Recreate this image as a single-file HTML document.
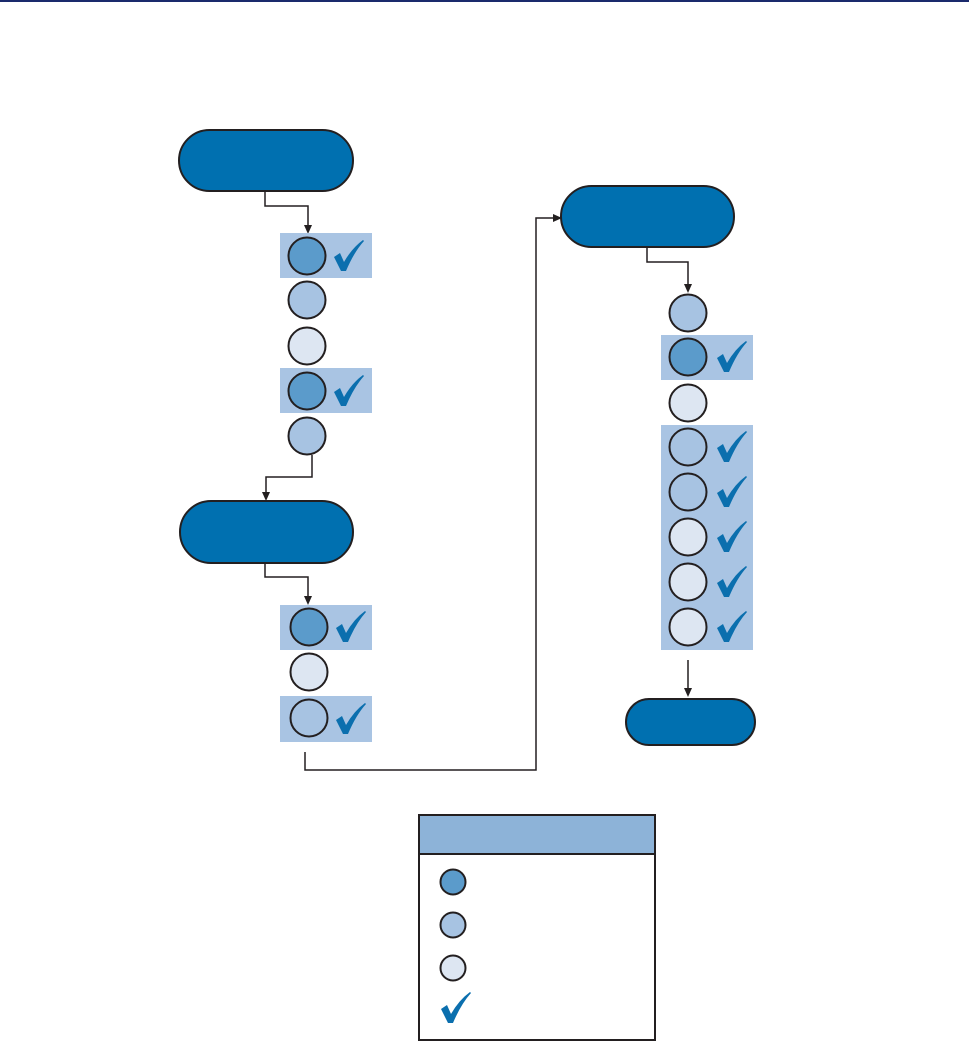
<!DOCTYPE html>
<html><head><meta charset="utf-8"><style>html,body{margin:0;padding:0;background:#fff}svg{display:block}</style></head>
<body>
<svg width="969" height="1044" viewBox="0 0 969 1044" xmlns="http://www.w3.org/2000/svg">
<defs>
<path id="ck" d="M0,17 L6,13 L10,22 Q18,8 29,0 L30,1 Q20,12 12,31 L7,31 Z" fill="#0b6fae"/>
<marker id="ar" markerWidth="8" markerHeight="10" refX="4" refY="9" orient="auto" markerUnits="userSpaceOnUse"><path d="M0,0 L8,0 L4,10 Z" fill="#231f20" transform="rotate(0)"/></marker>
</defs>
<rect x="0" y="0" width="969" height="2" fill="#1a2a6c"/>
<g stroke="#231f20" stroke-width="1.5" fill="none">
<path d="M265,191 V206 H308 V226"/>
<path d="M312,455 V477 H266 V493"/>
<path d="M265,563 V577 H308 V597"/>
<path d="M305,752 V770 H536 V218 H554"/>
<path d="M647,247 V262 H688 V285"/>
<path d="M688,660 V689"/>
</g>
<g fill="#231f20">
<path d="M304,225 L312,225 L308,234 Z"/>
<path d="M262,492 L270,492 L266,501 Z"/>
<path d="M304,596 L312,596 L308,605 Z"/>
<path d="M553,214 L553,222 L562,218 Z"/>
<path d="M684,284 L692,284 L688,293 Z"/>
<path d="M684,688 L692,688 L688,697 Z"/>
</g>
<g fill="#0070b0" stroke="#231f20" stroke-width="2">
<rect x="179" y="130" width="174" height="61" rx="30.5"/>
<rect x="180" y="501" width="173" height="62" rx="31"/>
<rect x="561" y="186" width="173" height="61" rx="30.5"/>
<rect x="626" y="699" width="129" height="46" rx="23"/>
</g>
<g fill="#a9c4e3">
<rect x="280" y="233" width="92" height="45"/>
<rect x="280" y="368" width="92" height="45"/>
<rect x="280" y="605" width="92" height="45"/>
<rect x="280" y="696" width="92" height="46"/>
<rect x="661" y="335" width="92" height="45"/>
<rect x="661" y="425" width="92" height="225"/>
</g>
<g stroke="#231f20" stroke-width="2">
<circle cx="307" cy="256" r="18.5" fill="#5b9bcb"/>
<circle cx="307" cy="300" r="18.5" fill="#a7c3e2"/>
<circle cx="307" cy="346" r="18.5" fill="#dde6f2"/>
<circle cx="307" cy="391" r="18.5" fill="#5b9bcb"/>
<circle cx="307" cy="436" r="18.5" fill="#a7c3e2"/>
<circle cx="309" cy="627" r="18.5" fill="#5b9bcb"/>
<circle cx="309" cy="672" r="18.5" fill="#dde6f2"/>
<circle cx="309" cy="718" r="18.5" fill="#a7c3e2"/>
<circle cx="688" cy="313" r="18.5" fill="#a7c3e2"/>
<circle cx="688" cy="357" r="18.5" fill="#5b9bcb"/>
<circle cx="688" cy="403" r="18.5" fill="#dde6f2"/>
<circle cx="688" cy="447" r="18.5" fill="#a7c3e2"/>
<circle cx="688" cy="492" r="18.5" fill="#a7c3e2"/>
<circle cx="688" cy="537" r="18.5" fill="#dde6f2"/>
<circle cx="688" cy="582" r="18.5" fill="#dde6f2"/>
<circle cx="688" cy="627" r="18.5" fill="#dde6f2"/>
</g>
<use href="#ck" x="334" y="240"/>
<use href="#ck" x="334" y="375"/>
<use href="#ck" x="336" y="611"/>
<use href="#ck" x="336" y="703"/>
<use href="#ck" x="717" y="341"/>
<use href="#ck" x="717" y="431"/>
<use href="#ck" x="717" y="476"/>
<use href="#ck" x="717" y="521"/>
<use href="#ck" x="717" y="566"/>
<use href="#ck" x="717" y="611"/>
<rect x="419" y="815" width="236" height="225" fill="#fff" stroke="#231f20" stroke-width="2"/>
<rect x="420" y="816" width="234" height="38" fill="#8db3d8"/>
<line x1="419" y1="854" x2="655" y2="854" stroke="#231f20" stroke-width="2"/>
<g stroke="#231f20" stroke-width="2">
<circle cx="453" cy="882" r="12.5" fill="#5b9bcb"/>
<circle cx="453" cy="925" r="12.5" fill="#a7c3e2"/>
<circle cx="453" cy="968" r="12.5" fill="#dde6f2"/>
</g>
<use href="#ck" x="441" y="992"/>
</svg>
</body></html>
